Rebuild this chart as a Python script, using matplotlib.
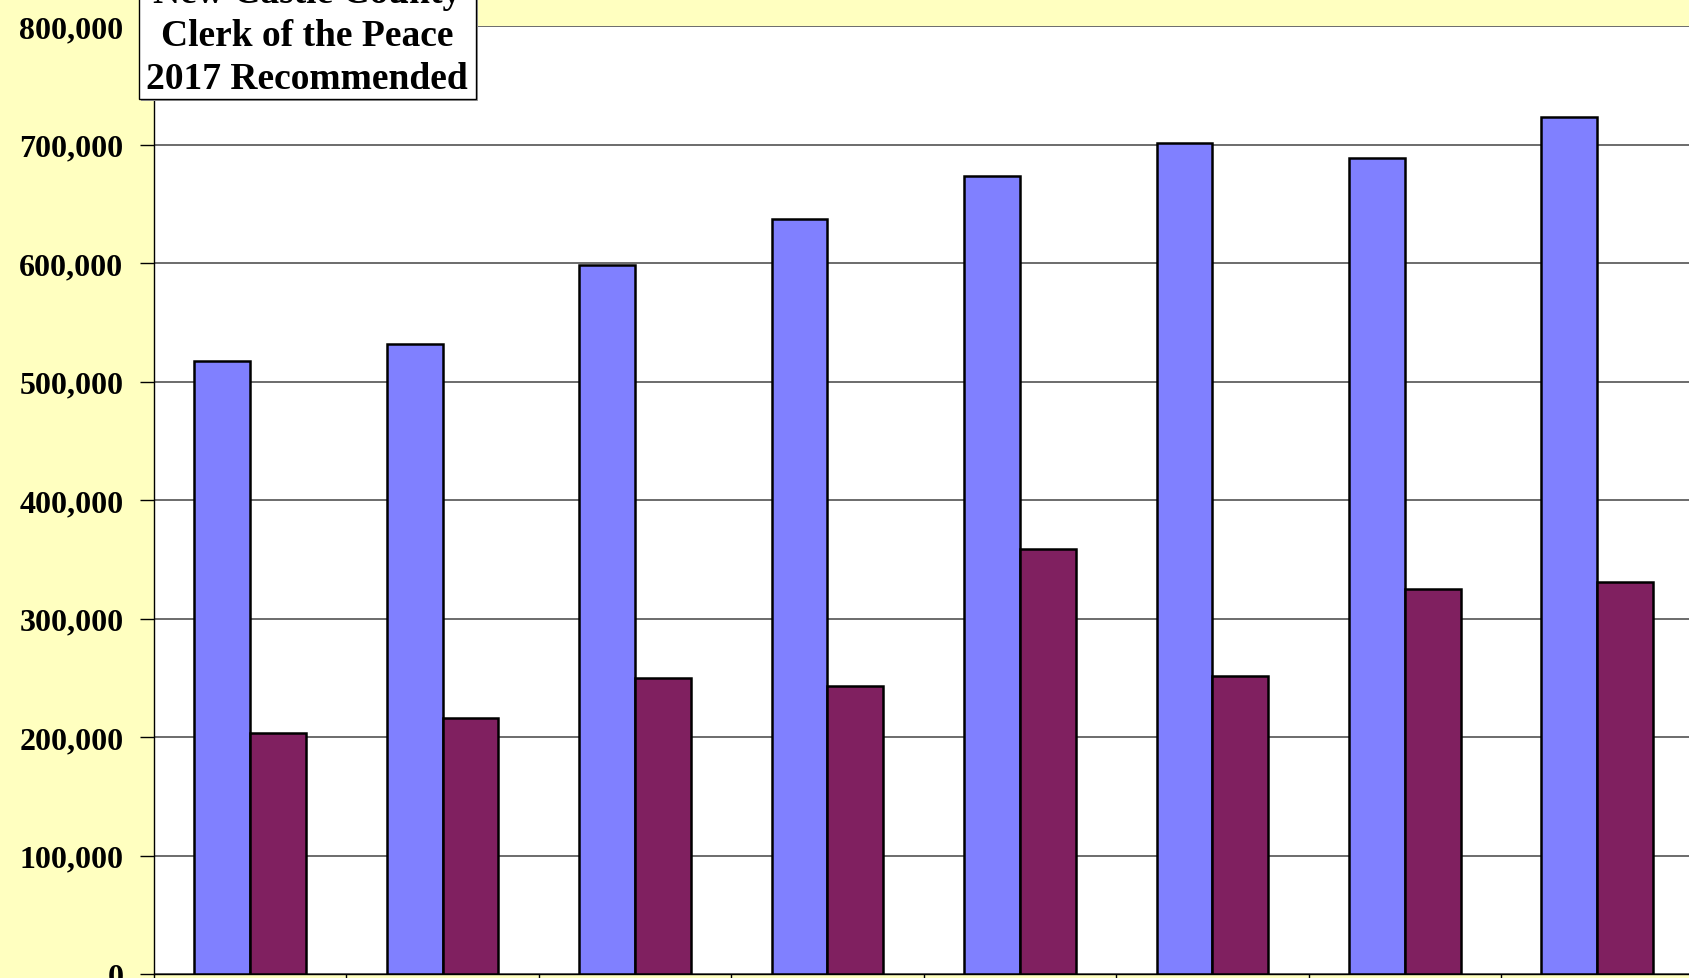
import numpy as np
import matplotlib
matplotlib.use("Agg")
import matplotlib.pyplot as plt
from matplotlib.patches import Rectangle
from matplotlib.ticker import FuncFormatter, FixedLocator

# fiscal years (their labels sit below the visible area, so only positions are used)
categories = ["FY 2010", "FY 2011", "FY 2012", "FY 2013",
              "FY 2014", "FY 2015", "FY 2016", "FY 2017"]
expenditures = [517000, 532000, 598500, 637500, 673000, 701000, 688500, 723000]
revenues = [203500, 216000, 249800, 243400, 358800, 251600, 325200, 330600]
y_ticks = [0, 100000, 200000, 300000, 400000, 500000, 600000, 700000, 800000]

BLUE = "#8080FF"
MAROON = "#802060"
YELLOW = "#FFFFC0"

plt.rcParams["font.family"] = ["Liberation Serif", "DejaVu Serif"]
plt.rcParams["font.weight"] = "bold"

W, H = 1690, 979
fig = plt.figure(figsize=(W / 100, H / 100), dpi=100, facecolor=YELLOW)
ax = fig.add_axes([154 / W, 4 / H, 1 - 154 / W + 0.002, 948 / H])
ax.set_facecolor("white")

x = np.arange(len(categories)) + 0.5
w = 0.29
ax.bar(x - w / 2, expenditures, width=w, color=BLUE, edgecolor="black",
       linewidth=1.8, zorder=3)
ax.bar(x + w / 2, revenues, width=w, color=MAROON, edgecolor="black",
       linewidth=1.8, zorder=3)

ax.set_xlim(0, len(categories))
ax.set_ylim(0, 800000)
ax.set_yticks(y_ticks)
ax.yaxis.set_major_formatter(FuncFormatter(lambda v, p: f"{int(v):,}"))
ax.grid(axis="y", color="#606060", linewidth=1.3, zorder=0)

ax.set_xticks(x)
ax.set_xticklabels(categories)
ax.xaxis.set_minor_locator(FixedLocator(np.arange(len(categories) + 1)))
ax.tick_params(axis="x", which="major", length=0, labelbottom=False)
ax.tick_params(axis="x", which="minor", length=10, width=1, direction="out")
ax.tick_params(axis="y", length=10, width=1, direction="out", pad=12,
               labelsize=23)
for lbl in ax.get_yticklabels():
    lbl.set_fontweight("bold")

for side in ["top", "right"]:
    ax.spines[side].set_visible(False)
ax.spines["left"].set_linewidth(1)
ax.spines["bottom"].set_linewidth(1)

# title box (runs off the top edge like in the original)
fig.patches.append(Rectangle((141 / W, 1 - 102 / H), 337 / W, 120 / H,
                             transform=fig.transFigure, fc="#a0a0a0",
                             ec="none", zorder=5))
fig.patches.append(Rectangle((139 / W, 1 - 100 / H), 337 / W, 120 / H,
                             transform=fig.transFigure, fc="white",
                             ec="black", lw=1, zorder=6))
fig.text(307 / W, 1 - 97 / H,
         "New Castle County\nClerk of the Peace\n2017 Recommended",
         ha="center", va="bottom", multialignment="center",
         fontsize=27, fontweight="bold", linespacing=1.29, zorder=7)

fig.savefig("out.png", dpi=100, facecolor=YELLOW)
